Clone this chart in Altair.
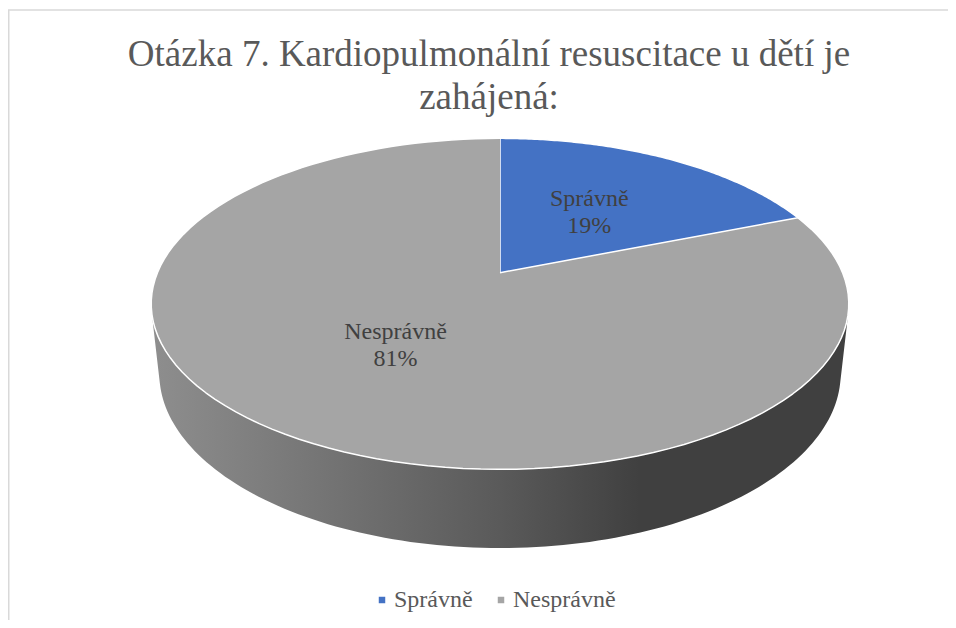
import math
import altair as alt
import pandas as pd

# ---- data -------------------------------------------------------------
categories = ["Správně", "Nesprávně"]
values = [19, 81]
colors = ["#4472C4", "#A5A5A5"]
title_lines = ["Otázka 7. Kardiopulmonální resuscitace u dětí je", "zahájená:"]

SERIF = "Times New Roman, Liberation Serif, DejaVu Serif, serif"

# ---- view / projection settings (style only) ----------------------------
W, H = 940, 612            # canvas (plot area) size
CX, CY = 492, 264.7        # pie centre inside the canvas
S = 0.466                  # sin of the tilt angle
C = math.sqrt(1 - S * S)   # cos of the tilt angle
D = 4.7                    # camera distance (perspective)
F = 1610                   # focal length in px
DEPTH = 0.2316             # thickness of the pie (in radius units)
N = 120                    # points per arc
TV0 = math.acos(-1 / (D * C))      # visible side wall from ...
TV1 = 2 * math.pi - TV0            # ... to

df = pd.DataFrame({"cat": categories, "value": values, "order": list(range(len(values)))})

xs = alt.X("px:Q", scale=alt.Scale(domain=[-CX, W - CX], nice=False, zero=False), axis=None)
ys = alt.Y("py:Q", scale=alt.Scale(domain=[CY - H, CY], nice=False, zero=False), axis=None)

base = (
    alt.Chart(df)
    .transform_joinaggregate(total="sum(value)")
    .transform_window(cum="sum(value)", sort=[alt.SortField("order")])
    .transform_calculate(a0="2*PI*(datum.cum - datum.value)/datum.total")
    .transform_calculate(a1="2*PI*datum.cum/datum.total")
)

# side wall (front part only, grey gradient like Excel's 3-D pie)
wall = (
    base.transform_calculate(w0=f"max(datum.a0, {TV0})")
    .transform_calculate(w1=f"min(datum.a1, {TV1})")
    .transform_filter("datum.w1 > datum.w0")
    .transform_calculate(step=f"sequence(0, {2 * N + 2})")
    .transform_flatten(["step"])
    .transform_calculate(
        th=f"datum.step <= {N} ? datum.w0 + (datum.w1-datum.w0)*datum.step/{N} "
           f": datum.w1 - (datum.w1-datum.w0)*(datum.step-{N + 1})/{N}"
    )
    .transform_calculate(lev=f"datum.step <= {N} ? 0 : -{DEPTH}")
    .transform_calculate(zc=f"-datum.lev*{S} + cos(datum.th)*{C} + {D}")
    .transform_calculate(px=f"{F}*sin(datum.th)/datum.zc")
    .transform_calculate(py=f"{F}*(datum.lev*{C} + cos(datum.th)*{S})/datum.zc")
    .mark_line(
        fill=alt.Gradient(
            gradient="linear",
            stops=[
                alt.GradientStop(offset=0, color="#8e8e8e"),
                alt.GradientStop(offset=0.5, color="#5a5a5a"),
                alt.GradientStop(offset=0.7, color="#404040"),
                alt.GradientStop(offset=1, color="#404040"),
            ],
            x1=0, x2=1, y1=0, y2=0,
        ),
        strokeWidth=0,
        strokeOpacity=0,
    )
    .encode(x=xs, y=ys, order=alt.Order("step:Q"), detail="cat:N")
)

# top face slices
top = (
    base.transform_calculate(step=f"sequence(-1, {N + 1})")
    .transform_flatten(["step"])
    .transform_calculate(th=f"datum.a0 + (datum.a1-datum.a0)*max(datum.step,0)/{N}")
    .transform_calculate(zc=f"cos(datum.th)*{C} + {D}")
    .transform_calculate(px=f"datum.step < 0 ? 0 : {F}*sin(datum.th)/datum.zc")
    .transform_calculate(py=f"datum.step < 0 ? 0 : {F}*{S}*cos(datum.th)/datum.zc")
    .mark_line(stroke="white", strokeWidth=1.5, strokeJoin="round")
    .encode(
        x=xs,
        y=ys,
        order=alt.Order("step:Q"),
        detail="cat:N",
        fill=alt.Fill(
            "cat:N",
            scale=alt.Scale(domain=categories, range=colors),
            legend=alt.Legend(
                title=None,
                orient="none",
                direction="horizontal",
                legendX=360,
                legendY=580,
                symbolType="square",
                symbolSize=42,
                symbolStrokeWidth=0,
                symbolOffset=2,
                labelFont=SERIF,
                labelFontSize=24,
                labelColor="#595959",
                labelOffset=0,
                columnPadding=14,
                padding=0,
            ),
        ),
    )
)

# data labels
labels = (
    base.transform_calculate(mid="(datum.a0 + datum.a1)/2")
    .transform_calculate(zc=f"0.5*cos(datum.mid)*{C} + {D}")
    .transform_calculate(px=f"{F}*0.5*sin(datum.mid)/datum.zc")
    .transform_calculate(py=f"{F}*{S}*0.5*cos(datum.mid)/datum.zc")
    .transform_calculate(label="datum.cat + '\\n' + round(100*datum.value/datum.total) + '%'")
    .mark_text(
        font=SERIF,
        fontSize=24,
        color="#404040",
        lineBreak="\n",
        lineHeight=27,
        baseline="middle",
        align="center",
        dy=-12,
    )
    .encode(x=xs, y=ys, text="label:N")
)

# thin frame (top and left edge visible in the reference)
frame_df = pd.DataFrame({"k": [0]})
frame_top = alt.Chart(frame_df).mark_rule(color="#d9d9d9", strokeWidth=1.5).encode(
    x=alt.value(0), x2=alt.value(W), y=alt.value(2)
)
frame_left = alt.Chart(frame_df).mark_rule(color="#d9d9d9", strokeWidth=1.5).encode(
    x=alt.value(0.75), y=alt.value(2), y2=alt.value(H)
)

chart = (
    alt.layer(frame_top, frame_left, wall, top, labels)
    .properties(
        width=W,
        height=H,
        autosize=alt.AutoSizeParams(type="none"),
        padding=0,
        title=alt.TitleParams(
            text=title_lines,
            font=SERIF,
            fontSize=37,
            fontWeight="normal",
            color="#595959",
            anchor="middle",
            orient="top",
            dx=11,
            offset=-109,
            lineHeight=43,
        ),
    )
    .configure_view(stroke=None)
)

chart.save("out.html", embed_options={"renderer": "svg", "actions": False})
